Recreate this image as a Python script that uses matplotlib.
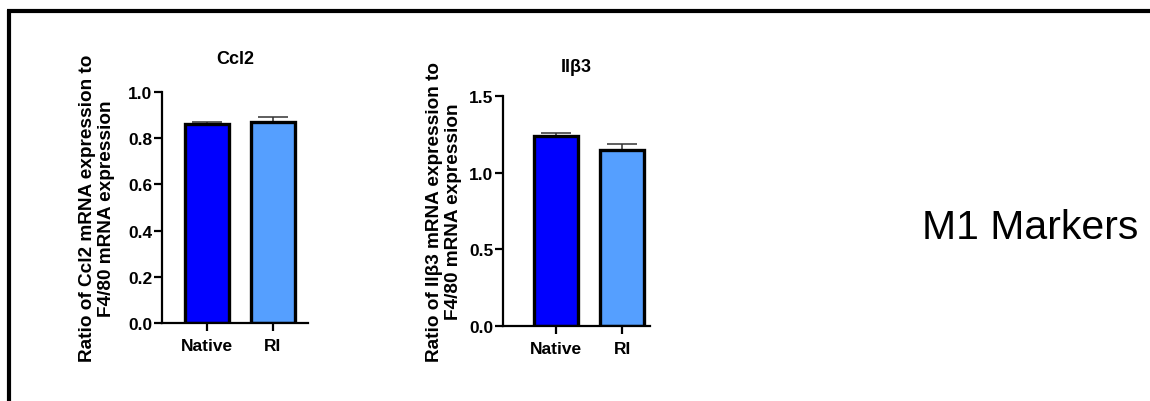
import matplotlib
matplotlib.use("Agg")
import matplotlib.pyplot as plt
from matplotlib.lines import Line2D

plt.rcParams['font.family'] = ['Liberation Sans', 'DejaVu Sans']

groups = ["Native", "RI"]
ccl2_values = [0.860, 0.872]
ccl2_err = [0.012, 0.020]
il_values = [1.236, 1.145]
il_err = [0.023, 0.042]
colors = ["#0000FF", "#559FFF"]

fig = plt.figure(figsize=(11.5, 4.02), dpi=100)

def draw(ax, vals, errs, ylim, yticks, xlim, title, title_y, ylab, ylab_x):
    x = list(range(len(groups)))
    ax.errorbar(x, vals, yerr=[[0]*len(errs), errs], fmt='none', ecolor='#333333',
                elinewidth=1.1, capsize=11, capthick=1.1, zorder=1)
    ax.bar(x, vals, width=0.667, color=colors, edgecolor='black', linewidth=2.4, zorder=2)
    ax.set_ylim(*ylim)
    ax.set_xlim(*xlim)
    ax.set_yticks(yticks)
    ax.set_yticklabels([f"{t:.1f}" for t in yticks])
    ax.set_xticks(x)
    ax.set_xticklabels(groups)
    for s in ['top', 'right']:
        ax.spines[s].set_visible(False)
    for s in ['left', 'bottom']:
        ax.spines[s].set_linewidth(1.6)
    ax.tick_params(axis='both', length=5.5, width=1.6, labelsize=12.5)
    ax.tick_params(axis='y', pad=1.5)
    ax.tick_params(axis='x', pad=5)
    for lab in ax.get_xticklabels() + ax.get_yticklabels():
        lab.set_fontweight('bold')
    bb = ax.get_position()
    fig.text((bb.x0 + bb.x1) / 2, title_y, title, ha='center', va='center',
             fontsize=13, fontweight='bold')
    fig.text(ylab_x, (bb.y0 + bb.y1) / 2, ylab, rotation=90, ha='center', va='center',
             fontsize=13.7, fontweight='bold', multialignment='center', linespacing=1.2)

ax1 = fig.add_axes([162/1150, 78/402, 146/1150, 231/402])
draw(ax1, ccl2_values, ccl2_err, (0, 1.0), [0.0, 0.2, 0.4, 0.6, 0.8, 1.0], (-0.68, 1.53),
     "Ccl2", (402-60)/402,
     "Ratio of Ccl2 mRNA expression to\nF4/80 mRNA expression", 97/1150)

ax2 = fig.add_axes([503/1150, 75/402, 147/1150, 230/402])
draw(ax2, il_values, il_err, (0, 1.5), [0.0, 0.5, 1.0, 1.5], (-0.8, 1.42),
     "Ilβ3", (402-67)/402,
     "Ratio of Ilβ3 mRNA expression to\nF4/80 mRNA expression", 444/1150)

fig.text(922/1150, (402-228)/402, "M1 Markers", ha='left', va='center', fontsize=29.5)

# frame lines
fig.add_artist(Line2D([7/1150, 1.0], [(402-12)/402]*2, color='black', linewidth=3,
                      transform=fig.transFigure, solid_capstyle='butt'))
fig.add_artist(Line2D([9/1150]*2, [(402-10.5)/402, 0.0], color='black', linewidth=3,
                      transform=fig.transFigure, solid_capstyle='butt'))

fig.savefig("out.png", dpi=100)
